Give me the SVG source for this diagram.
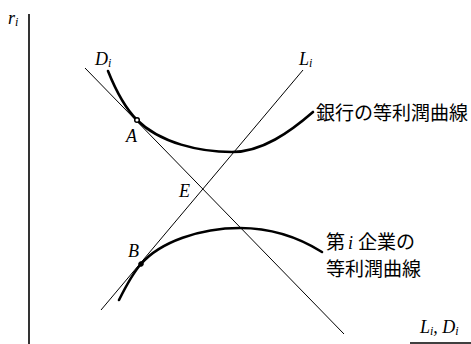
<svg xmlns="http://www.w3.org/2000/svg" width="471" height="344" viewBox="0 0 471 344">
<style>
.ax{stroke:#000;stroke-width:1.6;fill:none}
.ln{stroke:#000;stroke-width:1;fill:none}
.cv{stroke:#000;stroke-width:2.6;fill:none;stroke-linecap:round}
.it{font-family:"Liberation Serif",serif;font-style:italic;font-size:18px;fill:#000}
.sub{font-family:"Liberation Serif",serif;font-style:italic;font-size:12px;fill:#000}
.jp{font-family:"Noto Sans CJK JP",sans-serif;font-size:19px;fill:#000}
</style>
<rect width="471" height="344" fill="#fff"/>
<g id="axes">
<line class="ax" x1="29" y1="14" x2="29" y2="344"/>
<line class="ax" x1="410" y1="343" x2="471" y2="343"/>
<text class="it" x="8" y="24">r<tspan class="sub" dy="2">i</tspan></text>
<text class="it" x="420" y="333">L<tspan class="sub" dy="2">i</tspan><tspan dy="-2">, D</tspan><tspan class="sub" dy="2">i</tspan></text>
</g>
<g id="connectors">
<line id="Di" class="ln" x1="85" y1="68" x2="344" y2="334"/>
<line id="Li" class="ln" x1="303" y1="70" x2="101" y2="310"/>
</g>
<g id="bank-curve">
<path class="cv" d="M108,71 C116,91 127,110 137,120 C160,143 200,152 232,152 C262,152 290,132 313,112"/>
<text class="jp" x="316" y="120">銀行の等利潤曲線</text>
</g>
<g id="firm-curve">
<path class="cv" d="M119,300 C125,288 133,273 141,264 C160,242 200,228 240,228 C270,228 298,237 322,252"/>
<text class="jp" x="326" y="249">第<tspan class="it" x="348">i</tspan><tspan x="358">企業の</tspan></text>
<text class="jp" x="326" y="276">等利潤曲線</text>
</g>
<g id="labels">
<text class="it" x="95" y="65">D<tspan class="sub" dy="2">i</tspan></text>
<text class="it" x="299" y="65">L<tspan class="sub" dy="2">i</tspan></text>
</g>
<g id="A">
<circle cx="137" cy="120" r="2.3" fill="#fff" stroke="#000" stroke-width="1.5"/>
<text class="it" x="126" y="142">A</text>
</g>
<g id="B">
<circle cx="141" cy="264" r="2.3" fill="#000" stroke="#000" stroke-width="1"/>
<text class="it" x="128" y="257">B</text>
</g>
<g id="E">
<text class="it" x="179" y="197">E</text>
</g>
</svg>
